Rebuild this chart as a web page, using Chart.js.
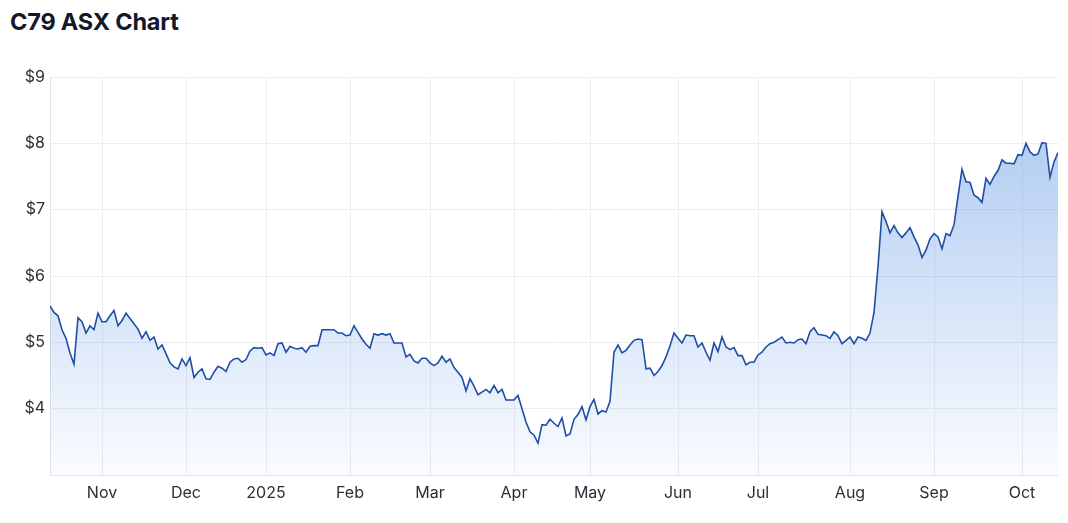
<!DOCTYPE html>
<html>
<head>
<meta charset="utf-8">
<script src="https://cdn.jsdelivr.net/npm/chart.js@4"></script>
<style>
  html, body { margin: 0; padding: 0; background: #fff; }
  body { width: 1068px; height: 523px; position: relative; overflow: hidden; font-family: Inter, "Noto Sans", sans-serif; }
  h1 { position: absolute; left: 10px; top: 7px; margin: 0; font-size: 23.5px; font-weight: 700; color: #14182b; letter-spacing: -0.2px; }
  #wrap { position: absolute; left: 0; top: 0; width: 1068px; height: 523px; }
</style>
</head>
<body>
<h1>C79 ASX Chart</h1>
<div id="wrap"><canvas id="chart"></canvas></div>
<script>
// =================== DATA ===================
// one value per ASX trading day, 15 Oct 2024 -> 14 Oct 2025
const prices = [
  5.55, 5.45, 5.40, 5.19, 5.06, 4.84, 4.67, 5.37, 5.31, 5.14,
  5.25, 5.19, 5.44, 5.31, 5.31, 5.40, 5.48, 5.25, 5.33, 5.44,
  5.36, 5.28, 5.20, 5.06, 5.16, 5.03, 5.08, 4.90, 4.96, 4.83,
  4.69, 4.63, 4.60, 4.75, 4.65, 4.77, 4.47, 4.55, 4.60, 4.45,
  4.44, 4.55, 4.64, 4.61, 4.56, 4.70, 4.75, 4.76, 4.70, 4.74,
  4.87, 4.92, 4.91, 4.92, 4.81, 4.84, 4.80, 4.98, 4.99, 4.85,
  4.94, 4.91, 4.90, 4.92, 4.85, 4.94, 4.95, 4.95, 5.19, 5.19,
  5.19, 5.19, 5.14, 5.14, 5.10, 5.11, 5.25, 5.15, 5.05, 4.97,
  4.91, 5.13, 5.11, 5.13, 5.11, 5.13, 4.99, 4.99, 4.99, 4.78,
  4.82, 4.72, 4.69, 4.76, 4.76, 4.69, 4.65, 4.69, 4.79, 4.70,
  4.75, 4.62, 4.55, 4.47, 4.27, 4.45, 4.34, 4.21, 4.25, 4.29,
  4.24, 4.35, 4.24, 4.29, 4.13, 4.13, 4.13, 4.20, 4.00, 3.80,
  3.65, 3.60, 3.48, 3.76, 3.75, 3.84, 3.78, 3.73, 3.86, 3.59,
  3.62, 3.84, 3.91, 4.03, 3.83, 4.03, 4.14, 3.92, 3.97, 3.95,
  4.11, 4.85, 4.96, 4.84, 4.88, 4.96, 5.03, 5.05, 5.04, 4.60,
  4.61, 4.50, 4.56, 4.65, 4.78, 4.95, 5.14, 5.06, 4.99, 5.11,
  5.10, 5.10, 4.93, 4.99, 4.85, 4.73, 4.99, 4.86, 5.08, 4.93,
  4.89, 4.92, 4.80, 4.80, 4.66, 4.70, 4.70, 4.81, 4.85, 4.93,
  4.98, 5.00, 5.04, 5.08, 4.99, 5.00, 4.99, 5.04, 5.05, 4.98,
  5.16, 5.22, 5.12, 5.11, 5.10, 5.06, 5.16, 5.10, 4.98, 5.03,
  5.08, 4.98, 5.08, 5.06, 5.03, 5.14, 5.45, 6.14, 6.97, 6.82,
  6.65, 6.76, 6.65, 6.58, 6.65, 6.73, 6.59, 6.47, 6.28, 6.39,
  6.56, 6.64, 6.59, 6.41, 6.64, 6.61, 6.77, 7.20, 7.61, 7.42,
  7.41, 7.22, 7.18, 7.11, 7.47, 7.38, 7.50, 7.59, 7.75, 7.70,
  7.70, 7.69, 7.83, 7.82, 8.00, 7.87, 7.82, 7.84, 8.01, 8.00,
  7.49, 7.72, 7.86
];

// trading-day index where each month starts, and its label
const monthTicks = [13, 34, 54, 75, 95, 116, 135, 157, 177, 200, 221, 243];
const monthLabels = ["Nov", "Dec", "2025", "Feb", "Mar", "Apr", "May", "Jun", "Jul", "Aug", "Sep", "Oct"];

const yTicks = [3, 4, 5, 6, 7, 8, 9];

// =================== CHART ===================
const points = prices.map((v, i) => ({ x: i, y: v }));

const ctx = document.getElementById("chart").getContext("2d");

function areaFill(context) {
  const area = context.chart.chartArea;
  if (!area) return "rgba(100,155,230,0.2)";
  const g = context.chart.ctx.createLinearGradient(0, area.top, 0, area.bottom);
  g.addColorStop(0, "rgba(96,150,228,0.55)");
  g.addColorStop(1, "rgba(96,150,228,0.03)");
  return g;
}

new Chart(ctx, {
  type: "line",
  data: {
    datasets: [{
      data: points,
      borderColor: "#1f4ea6",
      borderWidth: 1.6,
      pointRadius: 0,
      tension: 0,
      fill: "start",
      backgroundColor: areaFill
    }]
  },
  options: {
    responsive: true,
    maintainAspectRatio: false,
    animation: false,
    layout: { padding: { top: 77, right: 10, left: 0, bottom: 0 } },
    plugins: { legend: { display: false }, tooltip: { enabled: false } },
    scales: {
      x: {
        type: "linear",
        min: 0,
        max: prices.length - 1,
        afterBuildTicks: (axis) => { axis.ticks = monthTicks.map(v => ({ value: v })); },
        afterFit: (axis) => { axis.height = 48; },
        grid: { color: "#ededf0", drawTicks: false },
        border: { color: "#e4e4e8" },
        ticks: {
          padding: 9,
          maxRotation: 0,
          autoSkip: false,
          color: "#2b2f3a",
          font: { family: "Inter", size: 16 },
          callback: (v) => monthLabels[monthTicks.indexOf(v)] || ""
        }
      },
      y: {
        min: 3,
        max: 9,
        afterBuildTicks: (axis) => { axis.ticks = yTicks.map(v => ({ value: v })); },
        afterFit: (axis) => { axis.width = 50; },
        grid: { color: "#ededf0", drawTicks: false },
        border: { color: "#e4e4e8" },
        ticks: {
          padding: 5,
          color: "#2b2f3a",
          font: { family: "Inter", size: 16 },
          callback: (v) => (v === 3 ? "" : "$" + v)
        }
      }
    }
  }
});
</script>
</body>
</html>
